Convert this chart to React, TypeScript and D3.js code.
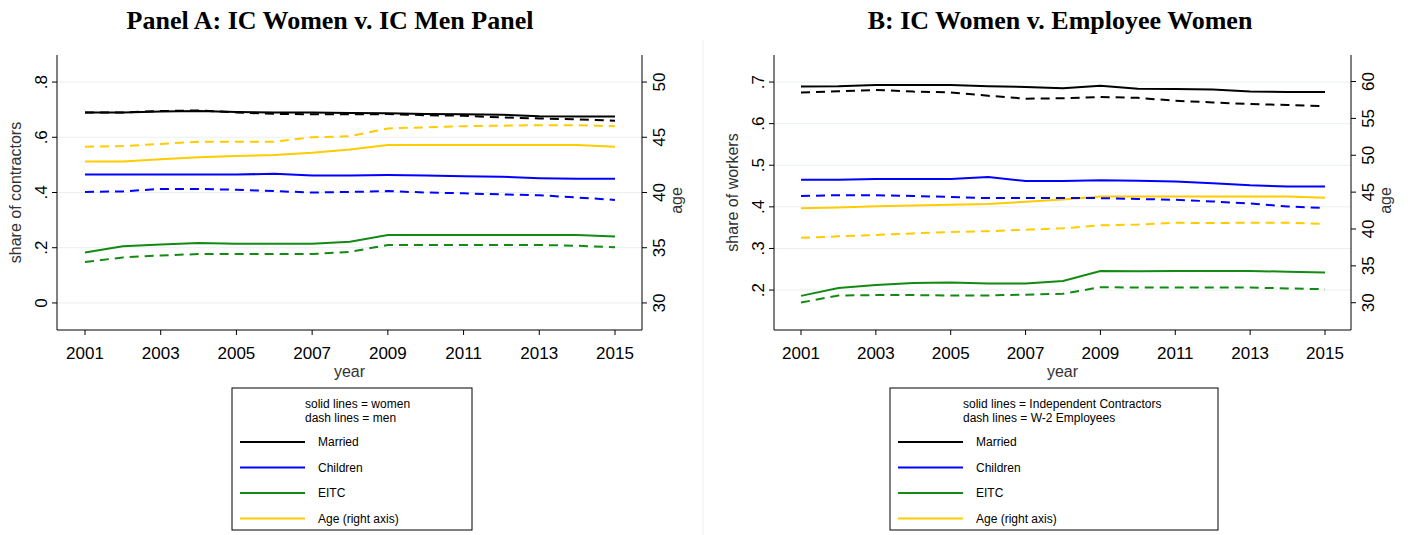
import React from "react";
import * as d3 from "d3";

const years = d3.range(2001, 2016);
const yearTicks = [2001, 2003, 2005, 2007, 2009, 2011, 2013, 2015];

// Panel A
const aMarriedW = [.69,.69,.693,.695,.692,.69,.69,.688,.687,.684,.683,.682,.676,.675,.675];
const aMarriedM = [.69,.69,.695,.697,.69,.685,.683,.683,.684,.68,.678,.672,.668,.665,.66];
const aChildW = [.465,.465,.465,.465,.465,.468,.462,.462,.463,.462,.459,.457,.452,.45,.45];
const aChildM = [.402,.404,.413,.413,.41,.405,.40,.402,.405,.40,.397,.393,.39,.382,.373];
const aEitcW = [.183,.205,.212,.217,.214,.214,.214,.222,.246,.246,.246,.246,.246,.246,.241];
const aEitcM = [.148,.165,.172,.177,.177,.177,.177,.185,.21,.21,.21,.21,.21,.207,.202];
const aAgeW = [42.8,42.8,43.0,43.2,43.3,43.4,43.6,43.9,44.3,44.3,44.3,44.3,44.3,44.3,44.15];
const aAgeM = [44.15,44.2,44.4,44.6,44.6,44.6,45.0,45.1,45.8,45.9,46.0,46.05,46.1,46.1,46.0];
const aLeftTicks = [0, .2, .4, .6, .8];
const aLeftLabels = ["0", ".2", ".4", ".6", ".8"];
const aRightTicks = [30, 35, 40, 45, 50];

// Panel B
const bMarriedIC = [.689,.69,.693,.693,.693,.69,.688,.685,.691,.684,.683,.682,.677,.676,.676];
const bMarriedW2 = [.675,.678,.681,.677,.675,.667,.66,.661,.664,.662,.655,.651,.647,.645,.642];
const bChildIC = [.465,.465,.467,.467,.467,.472,.462,.462,.464,.463,.461,.457,.452,.449,.449];
const bChildW2 = [.426,.428,.428,.426,.424,.421,.421,.421,.421,.419,.417,.413,.408,.401,.397];
const bEitcIC = [.186,.205,.212,.217,.218,.216,.216,.222,.246,.245,.246,.246,.246,.244,.242];
const bEitcW2 = [.17,.187,.188,.188,.187,.187,.189,.191,.207,.206,.206,.206,.206,.204,.202];
const bAgeIC = [42.8,42.9,43.1,43.2,43.3,43.4,43.7,44.0,44.4,44.4,44.4,44.4,44.4,44.4,44.23];
const bAgeW2 = [38.8,39.0,39.2,39.4,39.6,39.7,39.9,40.1,40.5,40.6,40.85,40.8,40.85,40.85,40.7];
const bLeftTicks = [.2, .3, .4, .5, .6, .7];
const bLeftLabels = [".2", ".3", ".4", ".5", ".6", ".7"];
const bRightTicks = [30, 35, 40, 45, 50, 55, 60];

const BLACK = "#000000", BLUE = "#0000ff", GREEN = "#138a13", GOLD = "#ffcc00";
const FONT = "'Liberation Sans', Arial, sans-serif";

type P = {
  ox: number; axL: number; axR: number; x0: number; x1: number;
  leftDom: [number, number]; leftTicks: number[]; leftLabels: string[];
  rightDom: [number, number]; rightTicks: number[];
  ylabel: string; title: string; titleX: number;
  solid: number[][]; dash: number[][];
  legX: number; legW: number; h1: string; h2: string;
};

const TOP = 55, BOT = 330;

function Panel(p: P) {
  const x = d3.scaleLinear().domain([2001, 2015]).range([p.x0, p.x1]);
  const yl = d3.scaleLinear().domain(p.leftDom).range([BOT, TOP]);
  const yr = d3.scaleLinear().domain(p.rightDom).range([BOT, TOP]);
  const line = (sc: d3.ScaleLinear<number, number>) =>
    d3.line<number>().x((_, i) => x(years[i])).y(v => sc(v));
  const colors = [BLACK, BLUE, GREEN, GOLD];
  const legItems = ["Married", "Children", "EITC", "Age (right axis)"];
  return (
    <g>
      <text x={p.titleX} y={29} textAnchor="middle" fontFamily="'Liberation Serif', 'DejaVu Serif', serif" fontWeight="bold" fontSize={26}>{p.title}</text>
      {p.leftTicks.map(t => <line key={t} x1={p.axL} x2={p.axR} y1={yl(t)} y2={yl(t)} stroke="#eaf0f0" strokeWidth={1} />)}
      <line x1={p.axL} x2={p.axL} y1={TOP} y2={BOT} stroke="#000" />
      <line x1={p.axR} x2={p.axR} y1={TOP} y2={BOT} stroke="#000" />
      <line x1={p.axL} x2={p.axR} y1={BOT} y2={BOT} stroke="#000" />
      {p.leftTicks.map((t, i) => (
        <g key={t}>
          <line x1={p.axL - 5} x2={p.axL} y1={yl(t)} y2={yl(t)} stroke="#000" />
          <text transform={`translate(${p.axL - 10},${yl(t)}) rotate(-90)`} textAnchor="middle" fontFamily={FONT} fontSize={17}>{p.leftLabels[i]}</text>
        </g>
      ))}
      {p.rightTicks.map(t => (
        <g key={t}>
          <line x1={p.axR} x2={p.axR + 5} y1={yr(t)} y2={yr(t)} stroke="#000" />
          <text transform={`translate(${p.axR + 23},${yr(t)}) rotate(-90)`} textAnchor="middle" fontFamily={FONT} fontSize={17}>{t}</text>
        </g>
      ))}
      {yearTicks.map(t => (
        <g key={t}>
          <line x1={x(t)} x2={x(t)} y1={BOT} y2={BOT + 5} stroke="#000" />
          <text x={x(t)} y={BOT + 29} textAnchor="middle" fontFamily={FONT} fontSize={17}>{t}</text>
        </g>
      ))}
      <text x={(p.axL + p.axR) / 2} y={BOT + 47} textAnchor="middle" fontFamily={FONT} fontSize={16} fill="#333">year</text>
      <text transform={`translate(${p.axL - 36},${(TOP + BOT) / 2}) rotate(-90)`} textAnchor="middle" fontFamily={FONT} fontSize={16} fill="#333">{p.ylabel}</text>
      <text transform={`translate(${p.axR + 40},${(TOP + BOT) / 2 + 8}) rotate(-90)`} textAnchor="middle" fontFamily={FONT} fontSize={16} fill="#333">age</text>
      {p.solid.map((s, i) => <path key={"s" + i} d={line(i === 3 ? yr : yl)(s) || ""} fill="none" stroke={colors[i]} strokeWidth={2} />)}
      {p.dash.map((s, i) => <path key={"d" + i} d={line(i === 3 ? yr : yl)(s) || ""} fill="none" stroke={colors[i]} strokeWidth={2} strokeDasharray="9 6" />)}
      <rect x={p.legX} y={388} width={p.legW} height={142} fill="none" stroke="#000" />
      <text x={p.legX + 73} y={408} fontFamily={FONT} fontSize={12}>{p.h1}</text>
      <text x={p.legX + 73} y={422} fontFamily={FONT} fontSize={12}>{p.h2}</text>
      {legItems.map((l, i) => (
        <g key={l}>
          <line x1={p.legX + 8} x2={p.legX + 73} y1={442 + i * 25.5} y2={442 + i * 25.5} stroke={colors[i]} strokeWidth={2} />
          <text x={p.legX + 86} y={446 + i * 25.5} fontFamily={FONT} fontSize={12}>{l}</text>
        </g>
      ))}
    </g>
  );
}

export default function App() {
  return (
    <svg width={1419} height={535} style={{ display: "block", position: "absolute", left: 0, top: 0, background: "#fff" }}>
      <line x1={703} x2={703} y1={40} y2={535} stroke="#eeeeee" />
      <Panel ox={0} axL={57} axR={642} x0={85} x1={615}
        leftDom={[-0.098, 0.898]} leftTicks={aLeftTicks} leftLabels={aLeftLabels}
        rightDom={[27.55, 52.45]} rightTicks={aRightTicks}
        ylabel="share of contractors" title="Panel A: IC Women v. IC Men Panel" titleX={330}
        solid={[aMarriedW, aChildW, aEitcW, aAgeW]} dash={[aMarriedM, aChildM, aEitcM, aAgeM]}
        legX={232} legW={240} h1="solid lines = women" h2="dash lines = men" />
      <Panel ox={710} axL={774} axR={1351} x0={801} x1={1325}
        leftDom={[0.104, 0.765]} leftTicks={bLeftTicks} leftLabels={bLeftLabels}
        rightDom={[26.3, 63.6]} rightTicks={bRightTicks}
        ylabel="share of workers" title="B: IC Women v. Employee Women" titleX={1060}
        solid={[bMarriedIC, bChildIC, bEitcIC, bAgeIC]} dash={[bMarriedW2, bChildW2, bEitcW2, bAgeW2]}
        legX={890} legW={328} h1="solid lines = Independent Contractors" h2="dash lines = W-2 Employees" />
    </svg>
  );
}
